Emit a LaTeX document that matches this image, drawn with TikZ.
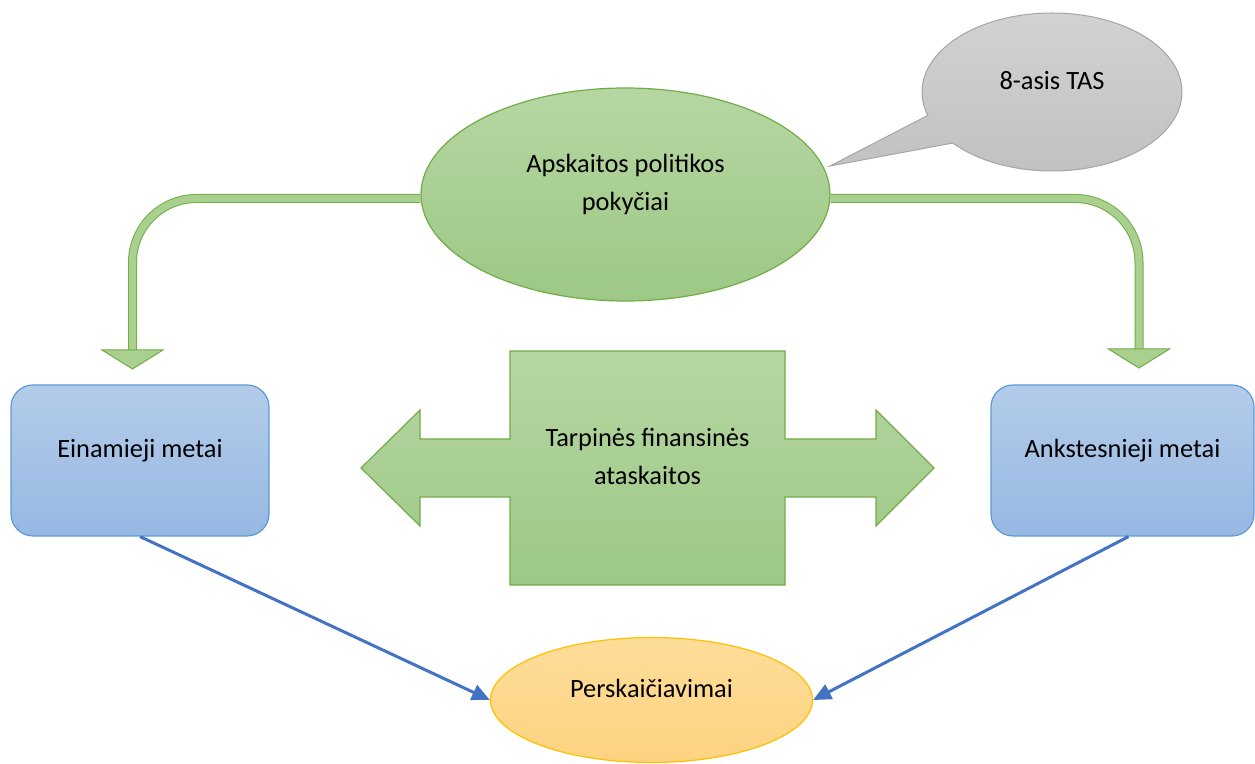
\documentclass[tikz,border=0pt]{standalone}
\usepackage{fontspec}
\setmainfont{Carlito}
\usetikzlibrary{shapes.geometric,shapes.callouts,arrows.meta}

\definecolor{grnline}{HTML}{70AD47}
\definecolor{grntop}{HTML}{B6D6A2}
\definecolor{grnbot}{HTML}{9DC885}
\definecolor{bandfill}{HTML}{AAD08F}
\definecolor{blueline}{HTML}{5B9BD5}
\definecolor{bluetop}{HTML}{B4CCEA}
\definecolor{bluebot}{HTML}{96B8E2}
\definecolor{greyline}{HTML}{A5A5A5}
\definecolor{greytop}{HTML}{D2D2D2}
\definecolor{greybot}{HTML}{C0C0C0}
\definecolor{orgline}{HTML}{FFC000}
\definecolor{orgtop}{HTML}{FEDD99}
\definecolor{orgbot}{HTML}{FDD381}
\definecolor{arrowblue}{HTML}{4472C4}

\tikzset{
	lbl/.style={font=\fontsize{13.2}{19}\selectfont, align=center, text depth=12pt},
	greenshape/.style={lbl, draw=grnline, line width=0.6pt, top color=grntop, bottom color=grnbot},
	yearbox/.style={lbl, rectangle, rounded corners=11pt, draw=blueline, line width=0.6pt, top color=bluetop, bottom color=bluebot, minimum height=75.5pt},
	band/.style={draw=grnline, line width=0.5pt, double=bandfill, double distance=3.5pt, rounded corners=32pt},
	bandhead/.style={draw=grnline, line width=0.5pt, fill=bandfill, line join=miter},
	link/.style={draw=arrowblue, line width=1.5pt, -{Triangle[length=9pt,width=8pt]}}
}

\begin{document}
\begin{tikzpicture}[x=0.5pt, y=-0.5pt]
	\useasboundingbox (0,0) rectangle (1255,764);
	\node[greenshape, ellipse, minimum width=204.5pt, minimum height=106.5pt] (policy) at (625.5,194.5) {Apskaitos politikos\\pokyčiai};
	\node[lbl, ellipse callout, draw=greyline, line width=0.5pt, top color=greytop, bottom color=greybot, minimum width=130pt, minimum height=79pt, callout absolute pointer={(830,166)}, callout pointer arc=23] (ias) at (1052,92) {8-asis TAS};
	\node[yearbox, minimum width=129pt] (current) at (140,460.5) {Einamieji metai};
	\node[yearbox, minimum width=131.5pt] (previous) at (1122.5,460.5) {Ankstesnieji metai};
	\node[lbl, ellipse, draw=orgline, line width=0.6pt, top color=orgtop, bottom color=orgbot, minimum width=161pt, minimum height=62.5pt] (recalc) at (651.5,700) {Perskaičiavimai};
	\draw[greenshape] (361,468) -- (420,410) -- (420,439) -- (510,439) -- (510,351) -- (785,351) -- (785,439) -- (876,439) -- (876,410) -- (934,468) -- (876,526) -- (876,497) -- (785,497) -- (785,585) -- (510,585) -- (510,497) -- (420,497) -- (420,526) -- cycle;
	\node[lbl] (interim) at (647.5,468) {Tarpinės finansinės\\ataskaitos};
	\coordinate (leftend) at (132.5,350);
	\coordinate (rightend) at (1139,349);
	\draw[band] ([yshift=-2pt]policy.west) -| (leftend);
	\draw[band] ([yshift=-2pt]policy.east) -| (rightend);
	\draw[bandhead] (leftend) ++(-30.5,0) -- ++(61,0) -- ++(-30.5,19) -- cycle;
	\draw[bandhead] (rightend) ++(-30.5,0) -- ++(61,0) -- ++(-30.5,19) -- cycle;
	\draw[link] (current.south) -- (recalc.west);
	\draw[link] ([xshift=3pt]previous.south) -- (recalc.east);
\end{tikzpicture}
\end{document}
